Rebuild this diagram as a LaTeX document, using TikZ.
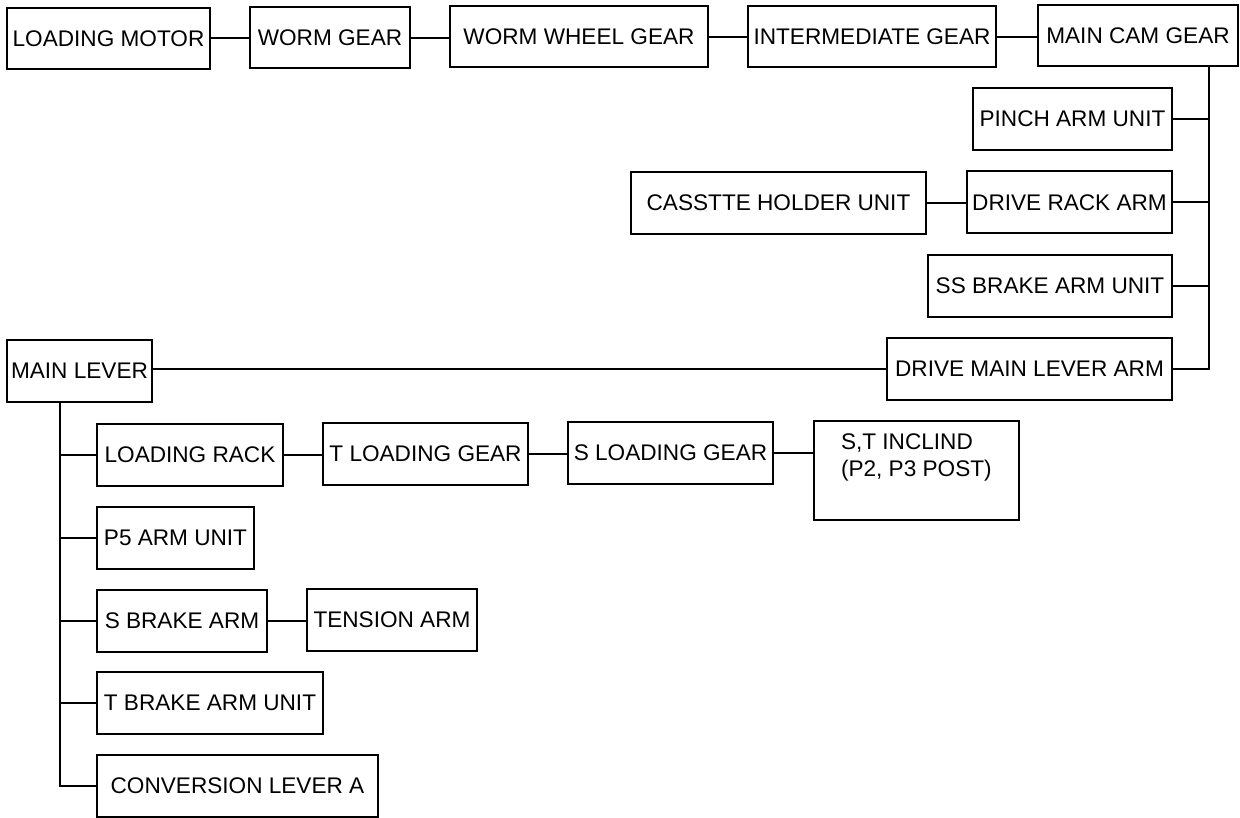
\documentclass[tikz,border=0pt]{standalone}
\usepackage{fontspec}
\setmainfont{Liberation Sans}

\begin{document}
\begin{tikzpicture}[
	x=1pt,y=-1pt,
	box/.style={
		draw,line width=2pt,
		inner sep=0pt,
		text centered,
		minimum height=62,
		font=\fontsize{22.6}{27}\selectfont,
	},
	link/.style={line width=2pt},
]
\useasboundingbox (0,0) rectangle (1240,818);

% Top row, motor to cam gear
\node [box,minimum width=203,minimum height=61] (motor) at (108.5,38.5) {LOADING MOTOR};
\node [box,minimum width=160,minimum height=61] (worm) at (330,38) {WORM GEAR};
\node [box,minimum width=258,minimum height=61] (wheel) at (579,37) {WORM WHEEL GEAR};
\node [box,minimum width=248,minimum height=61] (inter) at (872,37) {INTERMEDIATE GEAR};
\node [box,minimum width=200,minimum height=61] (cam) at (1138,36) {MAIN CAM GEAR};

% Units driven by the cam gear
\node [box,minimum width=199] (pinch) at (1072.5,119) {PINCH ARM UNIT};
\node [box,minimum width=205] (rack) at (1069.5,202.5) {DRIVE RACK ARM};
\node [box,minimum width=295] (holder) at (778.5,203) {CASSTTE HOLDER UNIT};
\node [box,minimum width=244] (ssbrake) at (1050,286) {SS BRAKE ARM UNIT};
\node [box,minimum width=285] (drvlever) at (1029.5,369) {DRIVE MAIN LEVER ARM};

% Main lever and its branch
\node [box,minimum width=145] (lever) at (79.5,371) {MAIN LEVER};
\node [box,minimum width=186] (ldrack) at (190,454.5) {LOADING RACK};
\node [box,minimum width=205] (tgear) at (425.5,453.5) {T LOADING GEAR};
\node [box,minimum width=205] (sgear) at (670.5,452.5) {S LOADING GEAR};
\node [box] (incl) at (916.5,470.5) {%
	\parbox[c][99pt][t]{205pt}{\raggedright\leftskip=27pt
		\vspace*{13pt}S,T INCLIND\\(P2, P3 POST)}};
\node [box,minimum width=157] (p5) at (175.5,537.5) {P5 ARM UNIT};
\node [box,minimum width=170] (sbrake) at (182,621) {S BRAKE ARM};
\node [box,minimum width=170] (tension) at (392,620) {TENSION ARM};
\node [box,minimum width=226] (tbrake) at (210,703) {T BRAKE ARM UNIT};
\node [box,minimum width=281] (conv) at (237.5,786) {CONVERSION LEVER A};

% Trunk coordinates
\coordinate (rtrunk) at (1209,369);
\coordinate (ltrunk) at (60,786);

% Connections along the top row
\draw[link] (motor.east) -- (motor.east -| worm.west);
\draw[link] (worm.east) -- (worm.east -| wheel.west);
\draw[link] (wheel.east) -- (wheel.east -| inter.west);
\draw[link] (inter.east) -- (inter.east -| cam.west);

% Cam gear trunk
\draw[link] (cam.south -| rtrunk) -- (rtrunk) -- (drvlever.east);
\draw[link] (pinch.east) -- (pinch.east -| rtrunk);
\draw[link] (rack.east) -- (rack.east -| rtrunk);
\draw[link] (ssbrake.east) -- (ssbrake.east -| rtrunk);
\draw[link] (holder.east) -- (holder.east -| rack.west);
\draw[link] (drvlever.west) -- (drvlever.west -| lever.east);

% Main lever trunk
\draw[link] (lever.south -| ltrunk) -- (ltrunk) -- (conv.west);
\draw[link] (ldrack.west) -- (ldrack.west -| ltrunk);
\draw[link] (p5.west) -- (p5.west -| ltrunk);
\draw[link] (sbrake.west) -- (sbrake.west -| ltrunk);
\draw[link] (tbrake.west) -- (tbrake.west -| ltrunk);
\draw[link] (ldrack.east) -- (ldrack.east -| tgear.west);
\draw[link] (tgear.east) -- (tgear.east -| sgear.west);
\draw[link] (sgear.east) -- (sgear.east -| incl.west);
\draw[link] (sbrake.east) -- (sbrake.east -| tension.west);

\end{tikzpicture}
\end{document}
